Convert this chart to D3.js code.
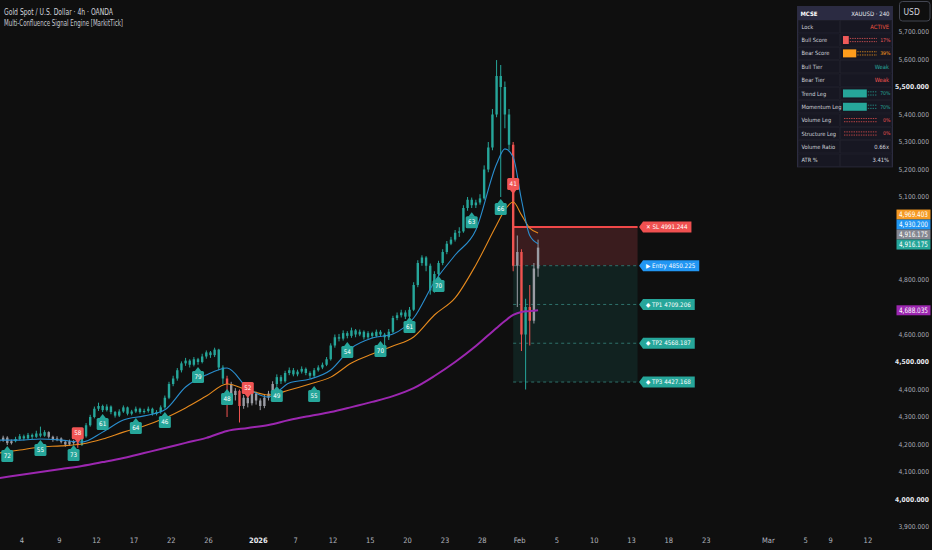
<!DOCTYPE html>
<html><head><meta charset="utf-8">
<script src="https://cdn.jsdelivr.net/npm/d3@7/dist/d3.min.js"></script>
<style>
html,body{margin:0;padding:0;background:#0f0f0f;overflow:hidden;}
svg{display:block;}
</style></head><body>
<svg id="chart" width="932" height="550"></svg>
<script>
// ---------------- DATA ----------------
const firstOpen = 4208;
const closes = [4215,4225,4205,4212,4220,4230,4222,4235,4228,4240,
4232,4245,4228,4218,4222,4210,4200,4212,4205,4198,
4230,4270,4300,4330,4340,4325,4338,4318,4305,4320,
4335,4312,4320,4330,4318,4322,4330,4312,4318,4335,
4370,4420,4440,4470,4495,4505,4490,4510,4500,4520,
4535,4525,4545,4480,4440,4420,4380,4395,4340,4370,
4350,4385,4360,4340,4370,4385,4420,4445,4430,4460,
4470,4455,4465,4475,4460,4450,4470,4480,4490,4510,
4560,4590,4585,4605,4595,4615,4600,4610,4590,4605,
4595,4610,4600,4590,4610,4660,4670,4680,4665,4690,
4780,4860,4880,4850,4760,4820,4860,4900,4930,4945,
4970,4975,5060,5090,5070,5080,5095,5200,5280,5400,
5540,5500,5400,5290,4850,4900,4600,4700,4650,4840,
4916];
const highs = [4222,4232,4230,4218,4228,4238,4236,4242,4240,4250,
4265,4252,4248,4232,4230,4226,4215,4218,4216,4212,
4236,4278,4308,4338,4352,4345,4346,4342,4322,4328,
4342,4338,4326,4338,4334,4330,4338,4334,4325,4342,
4378,4428,4450,4478,4502,4515,4510,4518,4515,4530,
4542,4540,4552,4548,4488,4450,4428,4405,4400,4380,
4378,4395,4392,4368,4380,4395,4430,4455,4452,4468,
4480,4478,4472,4484,4480,4466,4478,4488,4498,4518,
4568,4600,4602,4615,4612,4625,4620,4618,4615,4612,
4610,4618,4616,4606,4620,4668,4680,4690,4688,4700,
4790,4870,4888,4885,4858,4830,4868,4910,4940,4955,
4980,4990,5070,5100,5098,5090,5110,5215,5300,5420,
5598,5580,5520,5420,5300,4960,4910,4730,4780,4860,
4945];
const lows = [4200,4210,4198,4200,4208,4215,4215,4218,4220,4224,
4226,4228,4222,4210,4212,4204,4192,4195,4198,4188,
4195,4225,4265,4295,4322,4318,4320,4310,4298,4300,
4315,4306,4306,4315,4312,4312,4316,4305,4306,4312,
4330,4365,4412,4432,4462,4486,4480,4484,4490,4495,
4512,4515,4518,4470,4420,4300,4365,4360,4280,4330,
4335,4342,4345,4325,4332,4360,4378,4412,4420,4425,
4452,4448,4448,4458,4452,4440,4445,4465,4474,4485,
4505,4552,4575,4578,4586,4588,4590,4594,4582,4584,
4586,4590,4592,4560,4580,4605,4652,4662,4656,4660,
4685,4772,4850,4830,4745,4752,4812,4852,4892,4925,
4938,4955,4970,5050,5060,5060,5072,5090,5190,5270,
5390,5100,5350,5270,4830,4700,4540,4400,4560,4640,
4810];
// bar colouring regime: b = bull, n = neutral, r = bear
const regimeStart = [0,4,12,19,20,55,56,58,59,67,124,125,126,127,128,129];
const regimeKind  = ['n','b','n','r','b','r','n','r','n','b','r','n','r','b','r','n'];

// moving averages sampled at bar indices
const maIdx   = [0,5,10,15,20,25,30,35,40,45,50,55,60,65,70,75,80,85,90,95,100,105,110,115,120,122,124,126,128,130];
const emaFast = [4216,4216,4220,4216,4209,4245,4289,4304,4326,4409,4453,4478,4405,4373,4424,4438,4471,4551,4587,4602,4660,4791,4889,4980,5220,5275,5245,5090,4960,4930.2];
const emaSlow = [4169,4180,4191,4195,4202,4220,4245,4267,4296,4333,4376,4420,4398,4380,4398,4420,4445,4496,4529,4558,4591,4671,4733,4853,4998,5053,5082,5035,4987,4969.403];
const emaLong = [4078,4089,4100,4111,4122,4136,4151,4169,4187,4206,4224,4249,4260,4271,4289,4304,4318,4336,4355,4376,4405,4449,4500,4558,4624,4649,4671,4682,4685,4688.035];

// signals: bar index, score, direction, anchor price
const sigBar   = [2,10,18,19,25,33,40,48,55,60,67,76,84,92,99,106,114,121,124];
const sigScore = [72,55,73,58,61,64,46,79,48,52,49,55,54,70,61,70,63,66,41];
const sigDir   = ['up','up','up','dn','up','up','up','up','up','dn','up','up','up','up','up','up','up','up','dn'];
const sigPrice = [4195,4216,4198,4205,4311,4296,4318,4482,4402,4369,4413,4413,4573,4576,4664,4813,5045,5093,5111];

// trade plan
const tradeNames  = ['SL','Entry','TP1','TP2','TP3'];
const tradeIcons  = ['✕','▶','◆','◆','◆'];
const tradeLevels = [4991.244,4850.225,4709.206,4568.187,4427.168];
const tradeStartBar = 124, tradeEndBar = 154;

// axes
const xTickLabels = ['4','9','12','17','22','26','2026','7','12','15','20','23','28','Feb','5','10','13','18','23','Mar','5','9','12'];
const xTickDays   = [3,6,9,12,15,18,22,25,28,31,34,37,40,43,46,49,52,55,58,63,66,68,71];
const priceTicks  = [3900,4000,4100,4200,4300,4400,4500,4600,4700,4800,4900,5000,5100,5200,5300,5400,5500,5600,5700];

// price-scale markers
const markerValues = [4969.403,4930.200,4916.175,4916.175,4688.035];
const markerColors = ['#f59a23','#2196f3','#858791','#26a69a','#9c27b0'];

// dashboard table
const tableLabels = ['Lock','Bull Score','Bear Score','Bull Tier','Bear Tier','Trend Leg','Momentum Leg','Volume Leg','Structure Leg','Volume Ratio','ATR %'];
const tableValues = ['ACTIVE',17,39,'Weak','Weak',70,70,0,0,'0.66x','3.41%'];
const tableColors = ['#f0533f','#f05a5a','#ff9d1c','#26a69a','#ef5350','#26a69a','#26a69a','#ef5350','#ef5350','#d1d4dc','#d1d4dc'];

// ---------------- DRAW ----------------
const FONT = "'Liberation Sans Narrow','DejaVu Sans Condensed',Roboto,'Noto Sans',sans-serif";
const svg = d3.select('#chart').style('font-family', FONT);
svg.append('rect').attr('width',932).attr('height',550).attr('fill','#0f0f0f');

const x = d3.scaleLinear().domain([1.2315,73.016]).range([0,893]);
const y = d3.scaleLinear().domain([3900,5700]).range([527,32]);
const barDay = i => 1.15 + i/3;
const bx = i => x(barDay(i));

svg.append('defs').append('clipPath').attr('id','plotclip')
  .append('rect').attr('x',0).attr('y',0).attr('width',893).attr('height',528);
const plot = svg.append('g').attr('clip-path','url(#plotclip)');

// trade zones
const tx0 = bx(tradeStartBar), tx1 = bx(tradeEndBar);
plot.append('rect').attr('x',tx0).attr('width',tx1-tx0)
  .attr('y',y(tradeLevels[0])).attr('height',y(tradeLevels[1])-y(tradeLevels[0]))
  .attr('fill','#3a1c1e');
plot.append('rect').attr('x',tx0).attr('width',tx1-tx0)
  .attr('y',y(tradeLevels[1])).attr('height',y(tradeLevels[4])-y(tradeLevels[1]))
  .attr('fill','#112220');
tradeLevels.forEach((v,k)=>{
  plot.append('line').attr('x1',tx0).attr('x2',tx1).attr('y1',y(v)).attr('y2',y(v))
    .attr('stroke', k===0 ? '#f04848' : '#2f716b')
    .attr('stroke-width', k===0 ? 2 : 1)
    .attr('stroke-dasharray', k===0 ? null : '3,3');
});

// candles
const colOf = {b:'#26a69a', n:'#9a9ca4', r:'#ef5350'};
const kindOf = i => { let k='n'; regimeStart.forEach((s,j)=>{ if(i>=s) k=regimeKind[j]; }); return k; };
const bars = closes.map((c,i)=>({i, o: i===0?firstOpen:closes[i-1], c, h:highs[i], l:lows[i], k:kindOf(i)}));
const cg = plot.append('g');
cg.selectAll('line.w').data(bars).join('line')
  .attr('x1',d=>bx(d.i)).attr('x2',d=>bx(d.i))
  .attr('y1',d=>y(d.h)).attr('y2',d=>y(d.l))
  .attr('stroke',d=>colOf[d.k]).attr('stroke-width',1);
cg.selectAll('rect.b').data(bars).join('rect')
  .attr('x',d=>bx(d.i)-1.2).attr('width',2.4)
  .attr('y',d=>y(Math.max(d.o,d.c)))
  .attr('height',d=>Math.max(1,Math.abs(y(d.o)-y(d.c))))
  .attr('fill',d=>colOf[d.k]);

// moving averages
const lineGen = vals => d3.line().x((v,j)=>bx(maIdx[j])).y(v=>y(v)).curve(d3.curveMonotoneX)(vals);
plot.append('path').attr('d',lineGen(emaLong)).attr('fill','none').attr('stroke','#9c27b0').attr('stroke-width',2);
plot.append('path').attr('d',lineGen(emaSlow)).attr('fill','none').attr('stroke','#e68a1e').attr('stroke-width',1.1);
plot.append('path').attr('d',lineGen(emaFast)).attr('fill','none').attr('stroke','#2a8fd0').attr('stroke-width',1.1);

// signal labels
const sg = plot.append('g');
sigBar.forEach((b,k)=>{
  const cx = bx(b), ty = y(sigPrice[k]);
  const up = sigDir[k]==='up';
  const col = up ? '#26a69a' : '#f05454';
  const bw = 12, bh = 12, ph = 4;
  const by = up ? ty+ph : ty-ph-bh;
  sg.append('path').attr('d', up
      ? `M${cx},${ty} L${cx-3.5},${ty+ph+0.5} L${cx+3.5},${ty+ph+0.5} Z`
      : `M${cx},${ty} L${cx-3.5},${ty-ph-0.5} L${cx+3.5},${ty-ph-0.5} Z`)
    .attr('fill',col);
  sg.append('rect').attr('x',cx-bw/2).attr('y',by).attr('width',bw).attr('height',bh).attr('rx',1.5).attr('fill',col);
  sg.append('text').attr('x',cx).attr('y',by+bh/2+2.2).attr('text-anchor','middle')
    .attr('font-size',6.3).attr('fill','#ffffff').text(sigScore[k]);
});

// trade labels
const lg = svg.append('g');
tradeLevels.forEach((v,k)=>{
  const yc = y(v), x0 = tx1 + 1.5;
  const col = k===0 ? '#f05050' : (k===1 ? '#2196f3' : '#26a69a');
  const t = lg.append('text').attr('x',x0+7).attr('y',yc+2.2).attr('font-size',6.2).attr('fill','#ffffff')
    .text(`${tradeIcons[k]} ${tradeNames[k]} ${v.toFixed(3)}`);
  const w = t.node().getComputedTextLength() + 11;
  lg.insert('path','text').attr('d',`M${x0},${yc} L${x0+4},${yc-5.5} L${x0+w},${yc-5.5} L${x0+w},${yc+5.5} L${x0+4},${yc+5.5} Z`)
    .attr('fill',col);
});

// x axis labels
svg.append('g').selectAll('text').data(xTickLabels).join('text')
  .attr('x',(d,j)=>x(xTickDays[j])).attr('y',543).attr('text-anchor','middle')
  .attr('font-size',7.5)
  .attr('font-weight',d=>d==='2026'?'bold':'normal')
  .attr('fill',d=>d==='2026'?'#e6e8ee':'#b2b5be')
  .text(d=>d);

// stacked price markers (cluster bottom-anchored)
const fmt = d3.format(',.3f');
const mk = markerValues.map((v,k)=>({v, col:markerColors[k], ty:y(v), k}));
const MH = 10;
(function stack(items,h){
  items.sort((a,b)=>a.ty-b.ty || a.k-b.k);
  const clusters = items.map(d=>({items:[d]}));
  const place = c=>{ const n=c.items.length; const base = n>1 ? c.items[n-1].ty-3 : c.items[0].ty;
    c.items.forEach((d,j)=>d.py = base-(n-1-j)*h); };
  clusters.forEach(place);
  let changed = true;
  while(changed){ changed=false;
    for(let j=0;j<clusters.length-1;j++){ const a=clusters[j], b=clusters[j+1];
      if(b.items[0].py - a.items[a.items.length-1].py < h){ a.items=a.items.concat(b.items); clusters.splice(j+1,1); place(a); changed=true; break; } } }
})(mk,MH);

// price axis labels (hidden where a marker covers them)
const covered = p => mk.some(d=>Math.abs(y(p)-d.py) < MH/2+3.5);
svg.append('g').selectAll('text').data(priceTicks.filter(p=>!covered(p))).join('text')
  .attr('x',929).attr('y',d=>y(d)+2.4).attr('text-anchor','end')
  .attr('font-size',6.7)
  .attr('font-weight',d=>d%500===0?'bold':'normal')
  .attr('fill',d=>d%500===0?'#e6e8ee':'#a9acb6')
  .text(d=>fmt(d));

const mg = svg.append('g');
mk.forEach(d=>{
  mg.append('rect').attr('x',896.5).attr('y',d.py-MH/2).attr('width',34).attr('height',MH).attr('fill',d.col);
  mg.append('text').attr('x',899).attr('y',d.py+2.6).attr('font-size',7.5).attr('fill','#ffffff')
    .attr('textLength',29).attr('lengthAdjust','spacingAndGlyphs').text(fmt(d.v));
});

// USD box
svg.append('rect').attr('x',899.5).attr('y',1.5).attr('width',30.5).attr('height',19.5).attr('rx',3)
  .attr('fill','#0f0f0f').attr('stroke','#434651');
svg.append('text').attr('x',903.5).attr('y',14.5).attr('font-size',8.5).attr('fill','#d1d4dc').text('USD');

// title
svg.append('text').attr('x',4).attr('y',14.5).attr('font-size',8.2).attr('fill','#d1d4dc')
  .attr('textLength',109).attr('lengthAdjust','spacingAndGlyphs').text('Gold Spot / U.S. Dollar · 4h · OANDA');
svg.append('text').attr('x',4).attr('y',26.2).attr('font-size',8.2).attr('fill','#c6c8d0')
  .attr('textLength',119).attr('lengthAdjust','spacingAndGlyphs').text('Multi-Confluence Signal Engine [MarkitTick]');

// dashboard table
const T = {x:797.5, y:6.5, w:95, hh:13.5, rh:13.35, cx:840};
const tg = svg.append('g');
tg.append('rect').attr('x',T.x).attr('y',T.y).attr('width',T.w).attr('height',T.hh+T.rh*tableLabels.length)
  .attr('fill','#15151f').attr('stroke','#2c2c40');
tg.append('rect').attr('x',T.x).attr('y',T.y).attr('width',T.w).attr('height',T.hh).attr('fill','#2b2b42');
tg.append('text').attr('x',T.x+3).attr('y',T.y+9.2).attr('font-size',6).attr('font-weight','bold').attr('fill','#ffffff').text('MCSE');
tg.append('text').attr('x',T.x+T.w-3).attr('y',T.y+9.2).attr('font-size',6).attr('text-anchor','end').attr('fill','#e6e8ee').text('XAUUSD · 240');
tableLabels.forEach((lab,r)=>{
  const ry = T.y + T.hh + r*T.rh, mid = ry + T.rh/2;
  tg.append('rect').attr('x',T.x+1).attr('y',ry+0.5).attr('width',T.cx-T.x-1.5).attr('height',T.rh-1).attr('fill','#171722').attr('stroke','#23232f').attr('stroke-width',0.6);
  tg.append('rect').attr('x',T.cx+0.5).attr('y',ry+0.5).attr('width',T.x+T.w-T.cx-1.5).attr('height',T.rh-1).attr('fill','#171722').attr('stroke','#23232f').attr('stroke-width',0.6);
  tg.append('text').attr('x',T.x+4).attr('y',mid+2.1).attr('font-size',5.7).attr('fill','#d1d4dc').text(lab);
  const v = tableValues[r], col = tableColors[r];
  if (typeof v === 'number') {
    const b0 = 843, bw = 34, fw = bw*v/100;
    if (fw>0) tg.append('rect').attr('x',b0).attr('y',mid-4).attr('width',fw).attr('height',8).attr('fill',col);
    [-1.6,1.6].forEach(o=>{
      tg.append('line').attr('x1',b0+fw+1).attr('x2',b0+bw).attr('y1',mid+o).attr('y2',mid+o)
        .attr('stroke',col).attr('stroke-width',1).attr('stroke-dasharray','1.4,1').attr('opacity',0.75);
    });
    tg.append('text').attr('x',890.5).attr('y',mid+2).attr('text-anchor','end').attr('font-size',5.2).attr('fill',col).text(v+'%');
  } else {
    tg.append('text').attr('x',889).attr('y',mid+2.1).attr('text-anchor','end').attr('font-size',5.8).attr('fill',col).text(v);
  }
});
</script>
</body></html>
